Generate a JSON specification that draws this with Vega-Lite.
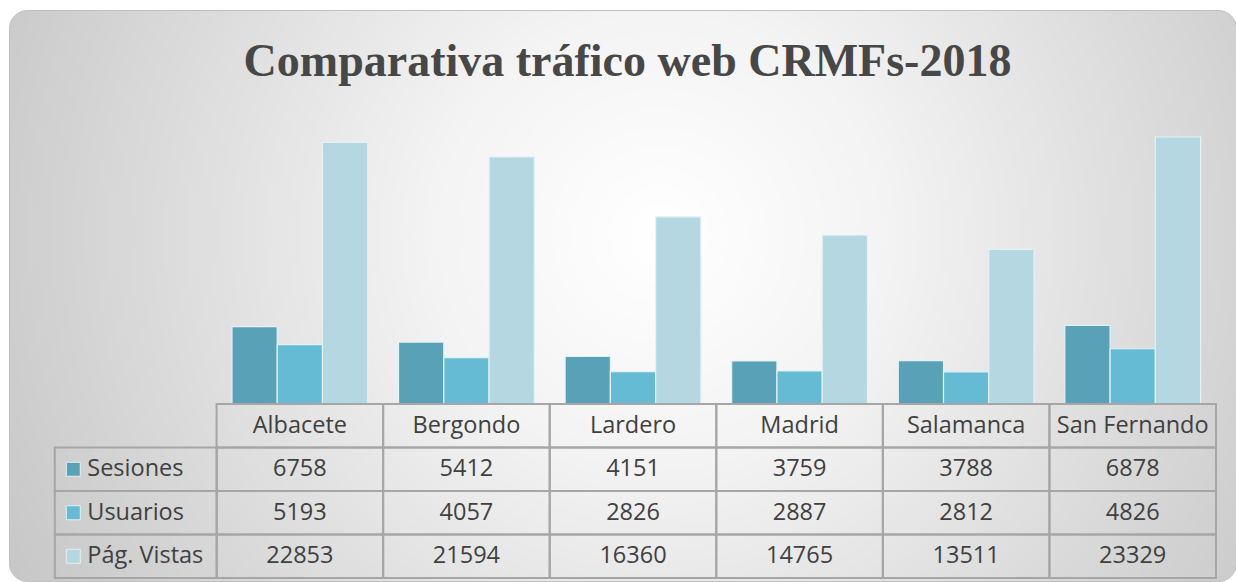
{
  "$schema": "https://vega.github.io/schema/vega-lite/v6.json",
  "autosize": {"type": "fit", "contains": "padding"},
  "width": 1236,
  "height": 582,
  "padding": {"left": 9, "top": 10, "right": 0, "bottom": 1},
  "background": "#ffffff",
  "title": {
    "text": "Comparativa tráfico web CRMFs-2018",
    "font": "Liberation Serif",
    "fontSize": 46,
    "fontWeight": "bold",
    "color": "#474747",
    "anchor": "middle",
    "offset": -76,
    "dx": 5
  },
  "config": {
    "view": {
      "fill": {
        "gradient": "radial",
        "x1": 0.53, "y1": 0.45, "r1": 0,
        "x2": 0.53, "y2": 0.45, "r2": 0.62,
        "stops": [
          {"offset": 0, "color": "#ffffff"},
          {"offset": 0.3, "color": "#f3f3f3"},
          {"offset": 1, "color": "#c4c4c4"}
        ]
      },
      "cornerRadius": 18,
      "stroke": "#c0c0c0",
      "strokeWidth": 1
    }
  },
  "datasets": {
    "d": [
      {"city": "Albacete", "serie": "Sesiones", "value": 6758},
      {"city": "Albacete", "serie": "Usuarios", "value": 5193},
      {"city": "Albacete", "serie": "Pág. Vistas", "value": 22853},
      {"city": "Bergondo", "serie": "Sesiones", "value": 5412},
      {"city": "Bergondo", "serie": "Usuarios", "value": 4057},
      {"city": "Bergondo", "serie": "Pág. Vistas", "value": 21594},
      {"city": "Lardero", "serie": "Sesiones", "value": 4151},
      {"city": "Lardero", "serie": "Usuarios", "value": 2826},
      {"city": "Lardero", "serie": "Pág. Vistas", "value": 16360},
      {"city": "Madrid", "serie": "Sesiones", "value": 3759},
      {"city": "Madrid", "serie": "Usuarios", "value": 2887},
      {"city": "Madrid", "serie": "Pág. Vistas", "value": 14765},
      {"city": "Salamanca", "serie": "Sesiones", "value": 3788},
      {"city": "Salamanca", "serie": "Usuarios", "value": 2812},
      {"city": "Salamanca", "serie": "Pág. Vistas", "value": 13511},
      {"city": "San Fernando", "serie": "Sesiones", "value": 6878},
      {"city": "San Fernando", "serie": "Usuarios", "value": 4826},
      {"city": "San Fernando", "serie": "Pág. Vistas", "value": 23329}
    ]
  },
  "data": {"name": "d"},
  "layer": [
    {
      "mark": {"type": "bar", "stroke": "#e4f1f5", "strokeWidth": 1.2},
      "encoding": {
        "x": {
          "field": "city", "type": "nominal",
          "scale": {
            "domain": [" ", "Albacete", "Bergondo", "Lardero", "Madrid", "Salamanca", "San Fernando"],
            "range": [41, 1207],
            "paddingInner": 0, "paddingOuter": 0
          },
          "axis": null
        },
        "xOffset": {
          "field": "serie", "type": "nominal",
          "scale": {"domain": ["Sesiones", "Usuarios", "Pág. Vistas"], "paddingInner": 0, "paddingOuter": 0.34}
        },
        "y": {
          "field": "value", "type": "quantitative",
          "scale": {"domain": [0, 25000], "range": [394, 107.9], "nice": false, "zero": true},
          "axis": null
        },
        "color": {
          "field": "serie", "type": "nominal",
          "scale": {"domain": ["Sesiones", "Usuarios", "Pág. Vistas"], "range": ["#58a1b7", "#64bbd3", "#b4d7e2"]},
          "legend": null
        }
      }
    },
    {
      "layer": [
        {
          "mark": {"type": "rect", "fillOpacity": 0, "stroke": "#a6a6a6", "strokeWidth": 2},
          "encoding": {
            "x": {"field": "city", "type": "nominal", "axis": null},
            "y": {
              "field": "serie", "type": "nominal",
              "scale": {"domain": ["hdr", "Sesiones", "Usuarios", "Pág. Vistas"], "range": [394, 568], "paddingInner": 0, "paddingOuter": 0},
              "axis": null
            }
          }
        },
        {
          "transform": [{"aggregate": [{"op": "count", "as": "n"}], "groupby": ["city"]}],
          "mark": {"type": "rect", "fillOpacity": 0, "stroke": "#a6a6a6", "strokeWidth": 2},
          "encoding": {
            "x": {"field": "city", "type": "nominal", "axis": null},
            "y": {"datum": "hdr", "type": "nominal", "axis": null}
          }
        },
        {
          "transform": [{"aggregate": [{"op": "count", "as": "n"}], "groupby": ["serie"]}],
          "mark": {"type": "rect", "fillOpacity": 0, "stroke": "#a6a6a6", "strokeWidth": 2, "width": 162, "xOffset": 2.5},
          "encoding": {
            "x": {"datum": " ", "type": "nominal", "axis": null},
            "y": {"field": "serie", "type": "nominal", "axis": null}
          }
        },
        {
          "mark": {"type": "text", "font": "Open Sans", "fontSize": 23.5, "color": "#404040", "baseline": "middle", "align": "center"},
          "encoding": {
            "x": {"field": "city", "type": "nominal", "axis": null},
            "y": {"field": "serie", "type": "nominal", "axis": null},
            "text": {"field": "value", "type": "quantitative", "format": "d"}
          }
        },
        {
          "transform": [{"aggregate": [{"op": "count", "as": "n"}], "groupby": ["city"]}],
          "mark": {"type": "text", "font": "Open Sans", "fontSize": 23.5, "color": "#404040", "baseline": "middle", "align": "center"},
          "encoding": {
            "x": {"field": "city", "type": "nominal", "axis": null},
            "y": {"datum": "hdr", "type": "nominal", "axis": null},
            "text": {"field": "city", "type": "nominal"}
          }
        },
        {
          "transform": [{"aggregate": [{"op": "count", "as": "n"}], "groupby": ["serie"]}],
          "mark": {"type": "text", "font": "Open Sans", "fontSize": 23.5, "color": "#404040", "baseline": "middle", "align": "left", "dx": -46},
          "encoding": {
            "x": {"datum": " ", "type": "nominal", "axis": null},
            "y": {"field": "serie", "type": "nominal", "axis": null},
            "text": {"field": "serie", "type": "nominal"}
          }
        },
        {
          "transform": [{"aggregate": [{"op": "count", "as": "n"}], "groupby": ["serie"]}],
          "mark": {"type": "point", "shape": "square", "filled": true, "opacity": 1, "size": 196, "xOffset": -60, "stroke": "#e4f1f5", "strokeWidth": 1},
          "encoding": {
            "x": {"datum": " ", "type": "nominal", "axis": null},
            "y": {"field": "serie", "type": "nominal", "axis": null},
            "color": {"field": "serie", "type": "nominal", "legend": null}
          }
        }
      ]
    }
  ],
  "resolve": {"scale": {"y": "independent"}}
}
